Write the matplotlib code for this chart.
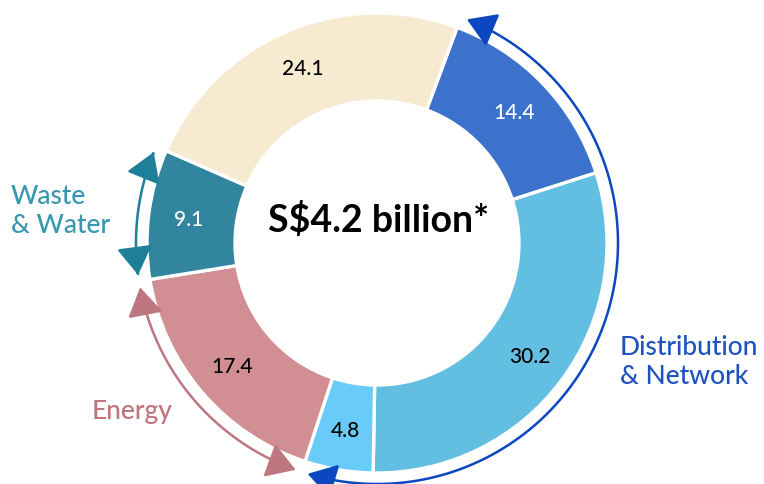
import numpy as np
import matplotlib
matplotlib.use("Agg")
import matplotlib.pyplot as plt
from matplotlib.patches import FancyArrowPatch
from matplotlib.path import Path

# ---- data ----
values = [14.4, 30.2, 4.8, 17.4, 9.1, 24.1]
labels = ["14.4", "30.2", "4.8", "17.4", "9.1", "24.1"]
colors = ["#3C72CB", "#63BFE2", "#68CBFA", "#D28F93", "#31859E", "#F6EBD1"]
label_colors = ["white", "black", "black", "black", "white", "black"]
center_text = "S$4.2 billion*"
# groups: (name, first wedge index, last wedge index, text colour, arrow colour)
groups = [
    ("Distribution\n& Network", 0, 2, "#1F52C0", "#0B47C0"),
    ("Energy", 3, 3, "#C0747C", "#BE7680"),
    ("Waste\n& Water", 4, 4, "#3998B0", "#1E7F98"),
]

W, H = 764, 485
fig = plt.figure(figsize=(W / 100, H / 100), dpi=100)
ax = fig.add_axes([0, 0, 1, 1])

cx, cy = 377, 485 - 244
R = 230
width = 88
start = 69.6  # degrees (matplotlib convention)

wedges, _ = ax.pie(values, colors=colors, startangle=start, counterclock=False,
                   radius=R, center=(cx, cy),
                   wedgeprops=dict(width=width, edgecolor="white", linewidth=2.4),
                   frame=True)
ax.set_xlim(0, W)
ax.set_ylim(0, H)
ax.set_aspect("equal")
ax.axis("off")

font = "Lato"
for w, lab, lc in zip(wedges, labels, label_colors):
    mid = np.deg2rad((w.theta1 + w.theta2) / 2)
    r = R - width / 2 + 4
    ax.text(cx + r * np.cos(mid), cy + r * np.sin(mid), lab, ha="center", va="center",
            fontsize=15, color=lc, family=font, fontweight="medium")

ax.text(cx + 2, 485 - 220, center_text, ha="center", va="center", fontsize=27,
        fontweight="bold", family=font, color="black")

# arcs with arrows
Ra = 241
for name, i0, i1, tc, ac in groups:
    a_start = wedges[i0].theta2 - 1.5  # counterclock=False: theta2 is the start side
    a_end = wedges[i1].theta1 + 1.5
    th = np.deg2rad(np.linspace(a_start, a_end, 120))
    verts = np.column_stack([cx + Ra * np.cos(th), cy + Ra * np.sin(th)])
    p = FancyArrowPatch(path=Path(verts), arrowstyle="<|-|>,head_length=8,head_width=5",
                        color=ac, linewidth=1.8, shrinkA=0, shrinkB=0, mutation_scale=2.2)
    ax.add_patch(p)

txt_kw = dict(ha="left", va="center", fontsize=19, family=font, fontweight="medium",
              linespacing=1.2)
ax.text(620, 485 - 362, groups[0][0], color=groups[0][3], **txt_kw)
ax.text(92, 485 - 412, groups[1][0], color=groups[1][3], **txt_kw)
ax.text(11, 485 - 211, groups[2][0], color=groups[2][3], **txt_kw)

fig.savefig("out.png", dpi=100)
